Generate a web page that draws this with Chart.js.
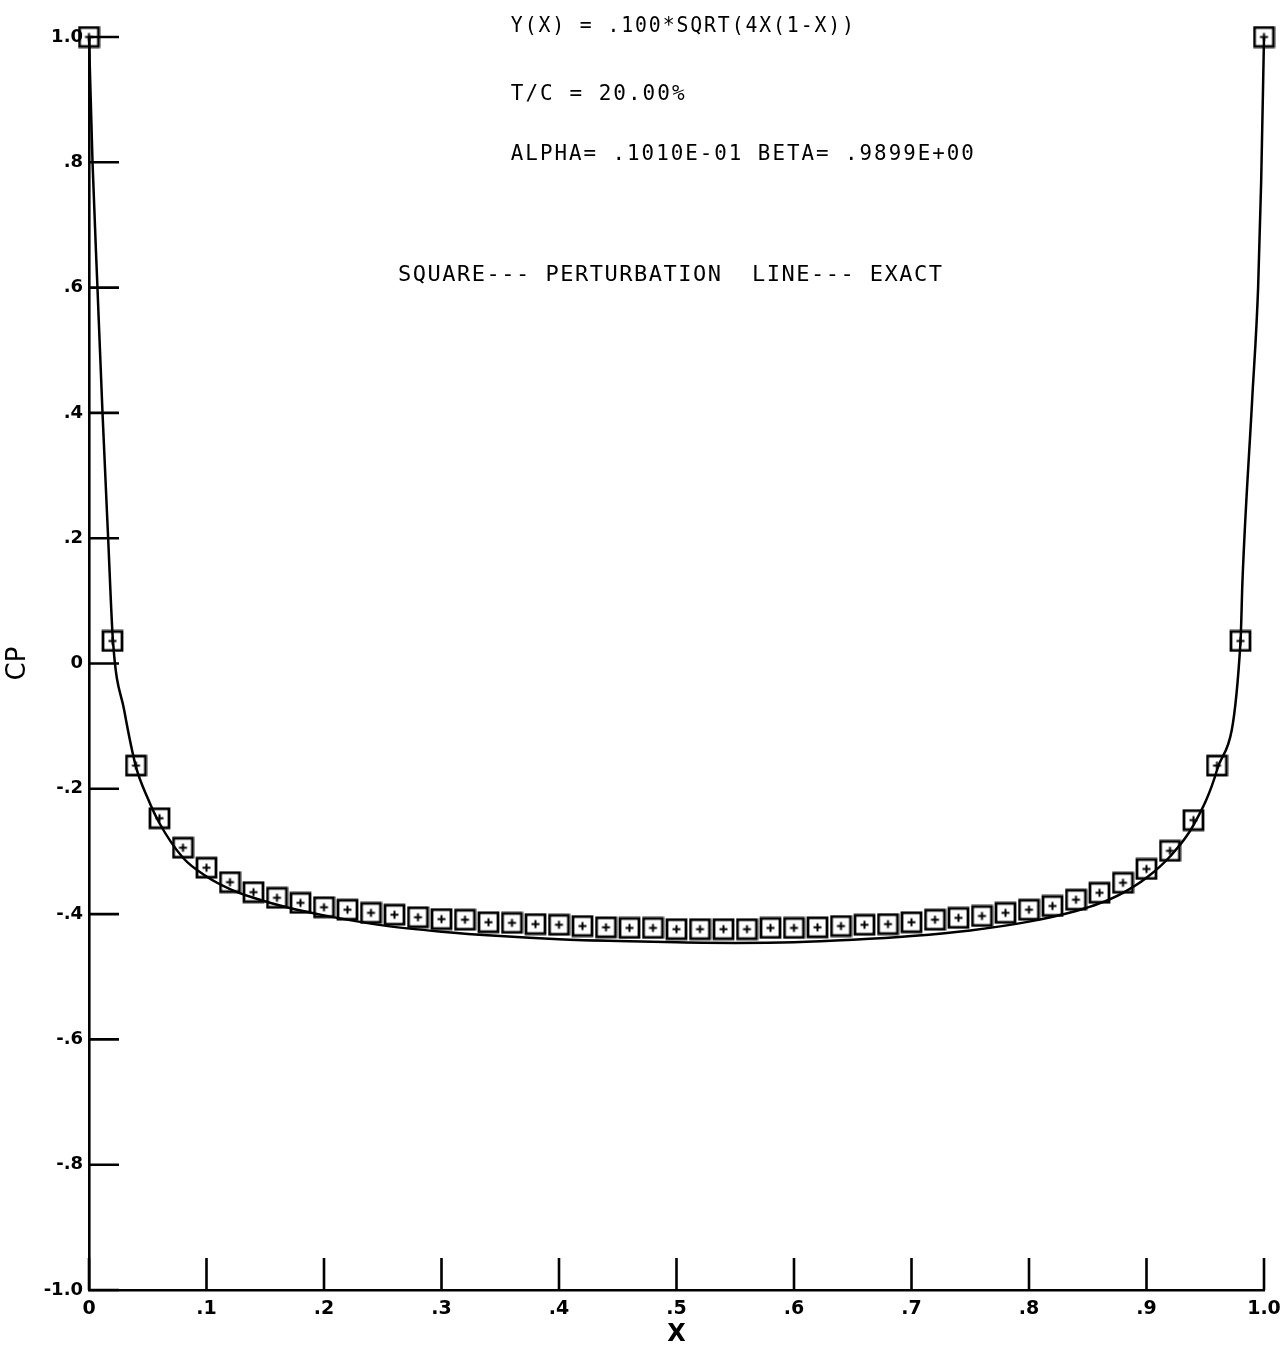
<!DOCTYPE html>
<html>
<head>
<meta charset="utf-8">
<title>CP vs X</title>
<script src="https://cdn.jsdelivr.net/npm/chart.js@4.4.1/dist/chart.umd.min.js"></script>
<style>
  body { margin: 0; background: #fff; }
  .wrap { position: relative; width: 1280px; height: 1347px; }
</style>
</head>
<body>
<div class="wrap"><canvas id="chart"></canvas></div>
<script>
// squares: perturbation solution
const xPerturb = [
  0, 0.02, 0.04, 0.06, 0.08, 0.10, 0.12, 0.14, 0.16, 0.18, 0.20, 0.22, 0.24,
  0.26, 0.28, 0.30, 0.32, 0.34, 0.36, 0.38, 0.40, 0.42, 0.44, 0.46, 0.48, 0.50,
  0.52, 0.54, 0.56, 0.58, 0.60, 0.62, 0.64, 0.66, 0.68, 0.70, 0.72, 0.74, 0.76,
  0.78, 0.80, 0.82, 0.84, 0.86, 0.88, 0.90, 0.92, 0.94, 0.96, 0.98, 1.0,
];
const cpPerturb = [
  1.0, 0.036, -0.163, -0.247, -0.294, -0.326, -0.349, -0.365, -0.374, -0.382,
  -0.389, -0.393, -0.398, -0.401, -0.405, -0.408, -0.409, -0.413, -0.414,
  -0.416, -0.417, -0.419, -0.421, -0.422, -0.422, -0.424, -0.424, -0.424,
  -0.424, -0.422, -0.422, -0.421, -0.419, -0.417, -0.416, -0.413, -0.409,
  -0.406, -0.403, -0.398, -0.393, -0.387, -0.377, -0.366, -0.350, -0.328,
  -0.299, -0.250, -0.163, 0.036, 1.0,
];

// line: exact solution
const xExact = [
  0, 0.003, 0.0072, 0.0115, 0.0163, 0.0204, 0.03, 0.04, 0.05, 0.06,
  0.08, 0.10, 0.12, 0.14, 0.17, 0.20, 0.25, 0.30, 0.35, 0.40, 0.45, 0.50, 0.55,
  0.60, 0.65, 0.70, 0.75, 0.80, 0.84, 0.86, 0.88, 0.90, 0.92, 0.94, 0.96,
  0.98, 0.9817, 0.9899, 0.995, 0.9976, 1.0,
];
const cpExact = [
  1.0, 0.8, 0.6, 0.4, 0.2, 0.036, -0.075, -0.165, -0.215, -0.255,
  -0.31, -0.34, -0.36, -0.374, -0.39, -0.402, -0.418, -0.428, -0.435, -0.44,
  -0.443, -0.445, -0.446, -0.445, -0.441, -0.435, -0.426, -0.412, -0.395,
  -0.383, -0.366, -0.342, -0.308, -0.258, -0.17, 0.034, 0.133, 0.42,
  0.6, 0.77, 1.0,
];

const xTicks = [0, 0.1, 0.2, 0.3, 0.4, 0.5, 0.6, 0.7, 0.8, 0.9, 1.0];
const yTicks = [-1.0, -0.8, -0.6, -0.4, -0.2, 0, 0.2, 0.4, 0.6, 0.8, 1.0];

const notes = [
  "Y(X) = .100*SQRT(4X(1-X))",
  "T/C = 20.00%",
  "ALPHA= .1010E-01 BETA= .9899E+00",
];
const legendText = "SQUARE--- PERTURBATION  LINE--- EXACT";

// square with a small plus inside
function makeMarker() {
  const c = document.createElement("canvas");
  c.width = 23;
  c.height = 23;
  const g = c.getContext("2d");
  g.strokeStyle = "#000";
  g.lineWidth = 2.8;
  g.strokeRect(2, 2, 19, 19);
  g.lineWidth = 2;
  g.beginPath();
  g.moveTo(7.5, 11.5);
  g.lineTo(15.5, 11.5);
  g.moveTo(11.5, 7.5);
  g.lineTo(11.5, 15.5);
  g.stroke();
  return c;
}

function fmt(v) {
  if (Math.abs(v) < 1e-9) return "0";
  return v.toFixed(1).replace("0.", ".");
}

// tick marks pointing into the plot + text blocks
const extras = {
  id: "extras",
  afterDraw(chart) {
    const ctx = chart.ctx;
    const xs = chart.scales.x;
    const ys = chart.scales.y;
    const area = chart.chartArea;
    ctx.save();
    ctx.strokeStyle = "#000";
    ctx.lineWidth = 2.6;
    ctx.beginPath();
    xTicks.forEach((v) => {
      const px = xs.getPixelForValue(v);
      ctx.moveTo(px, area.bottom);
      ctx.lineTo(px, area.bottom - 32);
    });
    yTicks.forEach((v) => {
      const py = ys.getPixelForValue(v);
      ctx.moveTo(area.left, py);
      ctx.lineTo(area.left + 30, py);
    });
    ctx.stroke();

    ctx.fillStyle = "#000";
    ctx.textBaseline = "alphabetic";
    ctx.textAlign = "left";
    ctx.font = "21px 'DejaVu Sans Mono'";
    ctx.letterSpacing = "2px";
    const x0 = xs.getPixelForValue(0.359);
    ctx.fillText(notes[0], x0, 32, 345);
    ctx.fillText(notes[1], x0, 100);
    ctx.fillText(notes[2], x0, 160, 465);
    ctx.font = "22px 'DejaVu Sans Mono'";
    ctx.letterSpacing = "1.5px";
    ctx.fillText(legendText, xs.getPixelForValue(0.263), 281, 548);
    ctx.restore();
  },
};

new Chart(document.getElementById("chart"), {
  type: "scatter",
  data: {
    datasets: [
      {
        type: "line",
        data: xExact.map((x, i) => ({ x: x, y: cpExact[i] })),
        borderColor: "#000",
        borderWidth: 2.5,
        pointRadius: 0,
        cubicInterpolationMode: "monotone",
        clip: false,
      },
      {
        data: xPerturb.map((x, i) => ({ x: x, y: cpPerturb[i] })),
        pointStyle: makeMarker(),
        pointRadius: 11,
        clip: false,
      },
    ],
  },
  options: {
    responsive: true,
    maintainAspectRatio: false,
    animation: false,
    layout: { padding: { top: 37, right: 16, left: 0, bottom: 0 } },
    plugins: {
      legend: { display: false },
      tooltip: { enabled: false },
    },
    scales: {
      x: {
        type: "linear",
        min: 0,
        max: 1,
        afterBuildTicks: (s) => {
          s.ticks = xTicks.map((v) => ({ value: v }));
        },
        afterFit: (s) => {
          s.height = 57;
          s.paddingLeft = 0;
          s.paddingRight = 0;
        },
        grid: { display: false, drawTicks: false, tickLength: 0 },
        border: { display: true, color: "#000", width: 2.6 },
        ticks: {
          padding: 8,
          color: "#000",
          maxRotation: 0,
          font: { family: "DejaVu Sans", size: 19, weight: "bold" },
          callback: (v) => fmt(v),
        },
        title: {
          display: true,
          text: "X",
          color: "#000",
          padding: { top: 0, bottom: 0 },
          font: { family: "DejaVu Sans", size: 24, weight: "bold", lineHeight: 1 },
        },
      },
      y: {
        type: "linear",
        min: -1,
        max: 1,
        afterBuildTicks: (s) => {
          s.ticks = yTicks.map((v) => ({ value: v }));
        },
        afterFit: (s) => {
          s.width = 89;
          s.paddingTop = 0;
          s.paddingBottom = 0;
        },
        grid: { display: false, drawTicks: false, tickLength: 0 },
        border: { display: true, color: "#000", width: 2.6 },
        ticks: {
          padding: 6,
          color: "#000",
          font: { family: "DejaVu Sans", size: 18, weight: "bold" },
          callback: (v) => fmt(v),
        },
        title: {
          display: true,
          text: "CP",
          color: "#000",
          padding: { top: 3, bottom: 0 },
          font: { family: "DejaVu Sans", size: 26, weight: "normal", lineHeight: 1.2 },
        },
      },
    },
  },
  plugins: [extras],
});
</script>
</body>
</html>
